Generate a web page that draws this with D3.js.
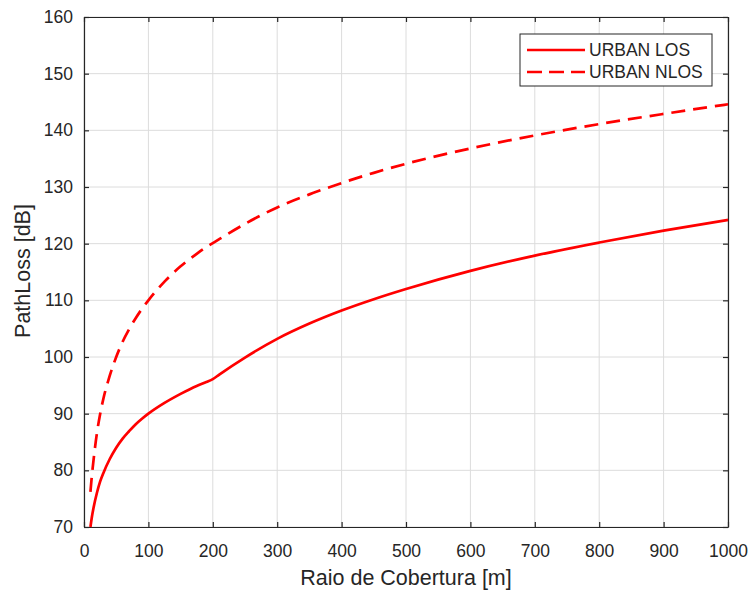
<!DOCTYPE html>
<html>
<head>
<meta charset="utf-8">
<script src="https://cdn.jsdelivr.net/npm/d3@7"></script>
<style>
  body { margin: 0; background: #fff; }
  svg { font-family: "Liberation Sans", Arial, sans-serif; }
</style>
</head>
<body>
<div id="chart"></div>
<script>
// distance [m]
const distances = [10, 12, 15, 20, 25, 30, 40, 50, 60, 70, 80, 90, 100, 125, 150, 175, 190, 200,
  210, 250, 300, 350, 400, 450, 500, 600, 700, 800, 900, 1000];
// path loss [dB]
const urbanLos = [70.0, 71.6, 73.5, 76.0, 78.0, 79.5, 82.0, 84.0, 85.6, 86.9, 88.1, 89.1, 90.0, 91.9,
  93.5, 94.9, 95.6, 96.1, 96.9, 99.9, 103.2, 105.9, 108.2, 110.2, 112.0, 115.2, 117.9, 120.2, 122.3, 124.2];
const urbanNlos = [76.2, 78.8, 82.0, 86.5, 89.9, 92.6, 96.7, 100.0, 102.7, 104.9, 106.8, 108.5, 110.0, 113.3,
  116.0, 118.2, 119.4, 120.1, 120.8, 123.5, 126.4, 128.7, 130.7, 132.5, 134.1, 136.8, 139.1, 141.1, 142.9, 144.6];

const xTicks = [0, 100, 200, 300, 400, 500, 600, 700, 800, 900, 1000];
const yTicks = [70, 80, 90, 100, 110, 120, 130, 140, 150, 160];
const seriesNames = ["URBAN LOS", "URBAN NLOS"];

const width = 753, height = 591;
const margin = {left: 84, top: 17, right: 25, bottom: 64};
const w = width - margin.left - margin.right;
const h = height - margin.top - margin.bottom;

const svg = d3.select("#chart").append("svg")
  .attr("width", width)
  .attr("height", height);

const g = svg.append("g").attr("transform", `translate(${margin.left},${margin.top})`);

const x = d3.scaleLinear().domain([0, 1000]).range([0, w]);
const y = d3.scaleLinear().domain([70, 160]).range([h, 0]);

const axisColor = "#262626";

// grid
g.append("g").selectAll("line").data(xTicks).join("line")
  .attr("x1", d => x(d)).attr("x2", d => x(d))
  .attr("y1", 0).attr("y2", h)
  .attr("stroke", "#dcdcdc").attr("stroke-width", 1);
g.append("g").selectAll("line").data(yTicks).join("line")
  .attr("y1", d => y(d)).attr("y2", d => y(d))
  .attr("x1", 0).attr("x2", w)
  .attr("stroke", "#dcdcdc").attr("stroke-width", 1);

// axes (ticks inside, MATLAB style)
const xAxis = g.append("g")
  .attr("transform", `translate(0,${h})`)
  .call(d3.axisBottom(x).tickValues(xTicks).tickFormat(d3.format("d"))
    .tickSizeInner(-5).tickSizeOuter(0).tickPadding(18));
const yAxis = g.append("g")
  .call(d3.axisLeft(y).tickValues(yTicks).tickSizeInner(-5).tickSizeOuter(0).tickPadding(11));
const xTop = g.append("g")
  .call(d3.axisTop(x).tickValues(xTicks).tickSizeInner(-5).tickSizeOuter(0).tickFormat(""));
const yRight = g.append("g")
  .attr("transform", `translate(${w},0)`)
  .call(d3.axisRight(y).tickValues(yTicks).tickSizeInner(-5).tickSizeOuter(0).tickFormat(""));

[xAxis, yAxis, xTop, yRight].forEach(a => {
  a.select(".domain").attr("stroke", axisColor).attr("stroke-width", 1.2);
  a.selectAll(".tick line").attr("stroke", axisColor).attr("stroke-width", 1.2);
  a.selectAll(".tick text").attr("fill", axisColor).style("font-size", "17.5px");
});
xAxis.selectAll(".tick text").attr("dy", "0.71em");

// lines
const line = d3.line()
  .x((d, i) => x(distances[i]))
  .y(d => y(d))
  .curve(d3.curveMonotoneX);

g.append("path")
  .datum(urbanLos)
  .attr("d", line)
  .attr("fill", "none")
  .attr("stroke", "#ff0000")
  .attr("stroke-width", 2.7);

g.append("path")
  .datum(urbanNlos)
  .attr("d", line)
  .attr("fill", "none")
  .attr("stroke", "#ff0000")
  .attr("stroke-width", 2.7)
  .attr("stroke-dasharray", "14,8");

// axis titles
svg.append("text")
  .attr("x", margin.left + w / 2)
  .attr("y", 585)
  .attr("text-anchor", "middle")
  .attr("fill", axisColor)
  .style("font-size", "21.5px")
  .text("Raio de Cobertura [m]");

svg.append("text")
  .attr("transform", `translate(30,271) rotate(-90)`)
  .attr("text-anchor", "middle")
  .attr("fill", axisColor)
  .style("font-size", "21.5px")
  .text("PathLoss [dB]");

// legend
const legend = svg.append("g").attr("transform", "translate(520,34)");
legend.append("rect")
  .attr("width", 192).attr("height", 52)
  .attr("fill", "#fff")
  .attr("stroke", axisColor).attr("stroke-width", 1);
seriesNames.forEach((name, i) => {
  const ly = 16 + i * 22;
  legend.append("line")
    .attr("x1", 7).attr("x2", 65)
    .attr("y1", ly).attr("y2", ly)
    .attr("stroke", "#ff0000").attr("stroke-width", 2.7)
    .attr("stroke-dasharray", i === 1 ? "15,7" : null);
  legend.append("text")
    .attr("x", 69).attr("y", ly)
    .attr("dy", "0.36em")
    .attr("fill", axisColor)
    .style("font-size", "17.5px")
    .text(name);
});
</script>
</body>
</html>
